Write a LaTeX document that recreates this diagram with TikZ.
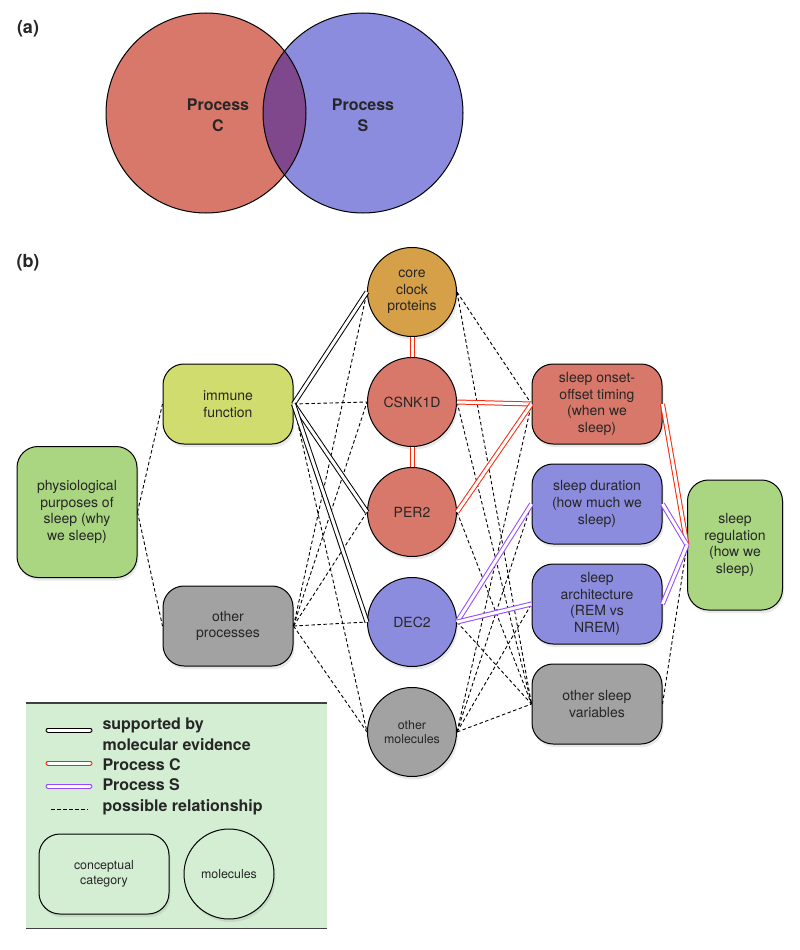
\documentclass[tikz,border=0pt]{standalone}
\usepackage{fontspec}
\setmainfont{TeX Gyre Heros}
\usetikzlibrary{positioning, shadows}
\definecolor{vennC}{RGB}{216,120,106}
\definecolor{vennS}{RGB}{140,140,222}
\definecolor{vennCS}{RGB}{128,72,140}
\definecolor{coreorange}{RGB}{214,160,72}
\definecolor{immyellow}{RGB}{208,220,110}
\definecolor{catgreen}{RGB}{170,214,130}
\definecolor{othergray}{RGB}{162,162,162}
\definecolor{legfill}{RGB}{212,238,212}
\definecolor{lineC}{RGB}{250,40,10}
\definecolor{lineS}{RGB}{150,70,255}
\tikzset{
node distance=110pt, % centre to centre, molecule column
every node/.style={text=black!85, font=\fontsize{14}{16.7}\selectfont, align=center},
concept/.style={draw, line width=1pt, rounded corners=21pt, minimum width=130pt, minimum height=80pt, inner sep=0pt,
  drop shadow={opacity=0.18, shadow xshift=1.5pt, shadow yshift=-3pt}}, % conceptual category
mol/.style={circle, draw, line width=1pt, minimum size=89pt, inner sep=0pt,
  drop shadow={opacity=0.18, shadow xshift=1.5pt, shadow yshift=-3pt}}, % molecules
evid/.style={draw=black, double=white, double distance=3pt, line width=1pt}, % molecular evidence
procc/.style={evid, draw=lineC}, % process C
procs/.style={evid, draw=lineS}, % process S
poss/.style={draw=black, dash pattern=on 3.5pt off 2.5pt, line width=0.9pt}, % possible relationship
}
\begin{document}
\begin{tikzpicture}[x=1pt, y=-1pt]
\useasboundingbox (0,0) rectangle (800,950);

% (a) venn
\node[font=\bfseries\fontsize{18}{20}\selectfont] (la) at (28,29) {(a)};
\node[circle, minimum size=200pt, inner sep=0pt, fill=vennC] (vc) at (206,113) {};
\node[circle, minimum size=200pt, inner sep=0pt, fill=vennS] (vs) at (363,113) {};
\begin{scope}
\clip (vc.center) circle (100pt);
\fill[vennCS] (vs.center) circle (100pt);
\end{scope}
\draw[line width=1pt] (vc.center) circle (100pt);
\draw[line width=1pt] (vs.center) circle (100pt);
\node[font=\bfseries\fontsize{16}{21}\selectfont] (pc) at (218,115) {Process\\C};
\node[font=\bfseries\fontsize{16}{21}\selectfont] (ps) at (363,115) {Process\\S};

% (b) network
\node[font=\bfseries\fontsize{18}{20}\selectfont] (lb) at (28,263) {(b)};

\node[mol, fill=vennC] (csnk) at (412,402) {CSNK1D};
\node[mol, fill=coreorange, above of=csnk] (core) {core\\clock\\proteins};
\node[mol, fill=vennC, below of=csnk] (per) {PER2};
\node[mol, fill=vennS, below of=per] (dec) {DEC2};
\node[mol, fill=othergray, below of=dec, font=\fontsize{12.4}{14}\selectfont] (omol) {other\\molecules};

\node[concept, fill=immyellow] (imm) at (228,404) {immune\\function};
\node[concept, fill=othergray, below of=imm, node distance=222pt] (oproc) {other\\processes};
\node[concept, fill=catgreen, minimum width=120pt, minimum height=131pt] (phys) at (77,512) {physiological\\purposes of\\sleep (why\\we sleep)};

\node[concept, fill=vennC] (onset) at (597,404) {sleep onset-\\offset timing\\(when we\\sleep)};
\node[concept, fill=vennS, below of=onset, node distance=100pt] (dur) {sleep duration\\(how much we\\sleep)};
\node[concept, fill=vennS, below of=dur, node distance=100pt] (arch) {sleep\\architecture\\(REM vs\\NREM)};
\node[concept, fill=othergray, below of=arch, node distance=100pt] (ovar) {other sleep\\variables};
\node[concept, fill=catgreen, minimum width=95pt, minimum height=130pt] (reg) at (735,545) {sleep\\regulation\\(how we\\sleep)};

% possible relationships
\draw[poss] (phys.east) -- (imm.west);
\draw[poss] (phys.east) -- (oproc.west);
\draw[poss] (imm.east) -- (csnk.west);
\draw[poss] (imm.east) -- (omol.west);
\draw[poss] (oproc.east) -- (core.west);
\draw[poss] (oproc.east) -- (csnk.west);
\draw[poss] (oproc.east) -- (per.west);
\draw[poss] (oproc.east) -- (dec.west);
\draw[poss] (oproc.east) -- (omol.west);
\draw[poss] (core.east) -- (onset.west);
\draw[poss] (core.east) -- (ovar.west);
\draw[poss] (csnk.east) -- (ovar.west);
\draw[poss] (per.east) -- (ovar.west);
\draw[poss] (dec.east) -- (ovar.west);
\draw[poss] (omol.east) -- (onset.west);
\draw[poss] (omol.east) -- (dur.west);
\draw[poss] (omol.east) -- (arch.west);
\draw[poss] (omol.east) -- (ovar.west);
\draw[poss] (ovar.east) -- (reg.west);

% molecular evidence
\draw[evid] (imm.east) -- (core.west);
\draw[evid] (imm.east) -- (per.west);
\draw[evid] (imm.east) -- (dec.west);

% process C
\draw[procc] (core.south) -- (csnk.north);
\draw[procc] (csnk.south) -- (per.north);
\draw[procc] (csnk.east) -- (onset.west);
\draw[procc] (per.east) -- (onset.west);
\draw[procc] (onset.east) -- (reg.west);

% process S
\draw[procs] (dec.east) -- (dur.west);
\draw[procs] (dec.east) -- (arch.west);
\draw[procs] (dur.east) -- (reg.west);
\draw[procs] (arch.east) -- (reg.west);

% legend
\node[fill=legfill, minimum width=301pt, minimum height=225pt, inner sep=0pt, anchor=north west] (leg) at (26,703) {};
\draw[black!75, line width=1.2pt] (leg.north west) -- (leg.north east);
\draw[black!75, line width=1.2pt] (leg.south west) -- (leg.south east);
\coordinate (e1) at (48,730); \coordinate (e2) at (90,730);
\coordinate (c1) at (48,763); \coordinate (c2) at (90,763);
\coordinate (s1) at (48,786); \coordinate (s2) at (90,786);
\coordinate (p1) at (51,809); \coordinate (p2) at (88,809);
\draw[evid, line cap=round] (e1) -- (e2);
\draw[procc, line cap=round] (c1) -- (c2);
\draw[procs, line cap=round] (s1) -- (s2);
\draw[poss] (p1) -- (p2);
\begin{scope}[every node/.append style={font=\bfseries\fontsize{16}{21}\selectfont, align=left, anchor=west}]
\node (tev) at (99,734) {supported by\\molecular evidence};
\node (tc) at (99,765) {Process C};
\node (ts) at (99,785) {Process S};
\node (tp) at (99,807) {possible relationship};
\end{scope}
\node[concept, fill=legfill, font=\fontsize{12.4}{14.5}\selectfont] (kcat) at (104,874) {conceptual\\category};
\node[mol, fill=legfill, minimum size=90pt, font=\fontsize{12.4}{14.5}\selectfont] (kmol) at (229,874) {molecules};
\end{tikzpicture}
\end{document}
